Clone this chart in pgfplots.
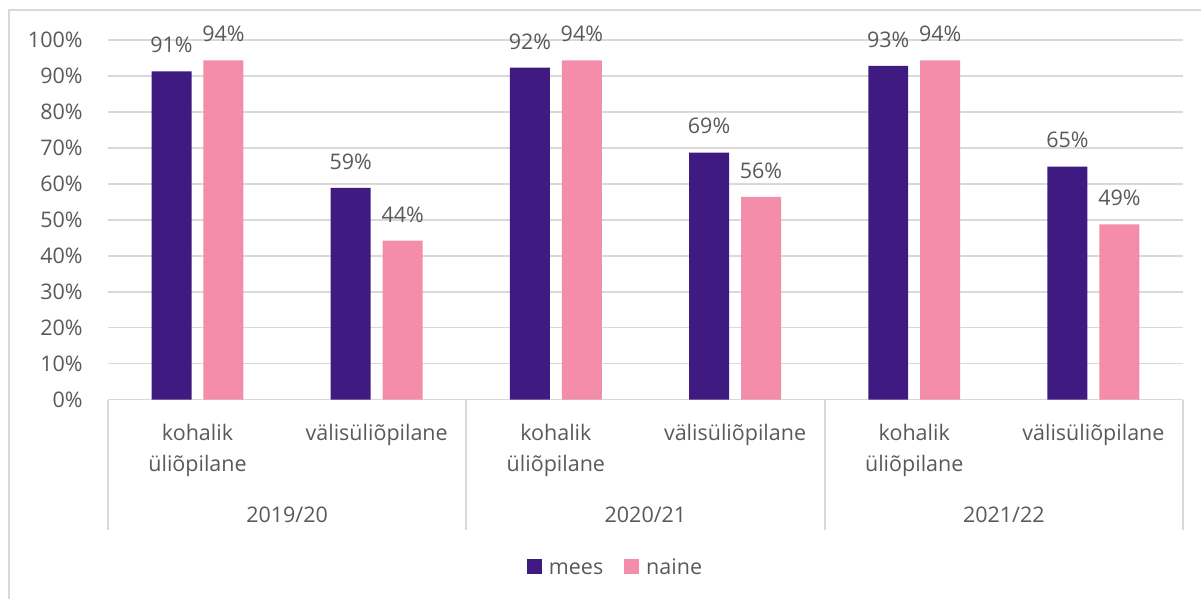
\documentclass[border=0pt]{standalone}
\usepackage{pgfplots}
\pgfplotsset{compat=1.18}
\usepackage{fontspec}
\setmainfont{Open Sans}
\definecolor{mees}{HTML}{3F1A80}
\definecolor{naine}{HTML}{F48DAA}
\definecolor{txt}{HTML}{595959}
\definecolor{grd}{HTML}{D9D9D9}
\newcommand{\cf}{\fontsize{10.75}{15.5}\selectfont}
\pgfplotsset{sqlegend/.style={legend image code/.code={\fill[##1,draw=none] (0pt,-3.5pt) rectangle (7.5pt,4pt);}}}
\begin{document}
\begin{tikzpicture}
\begin{axis}[
  scale only axis, width=538pt, height=180pt,
  xmin=0, xmax=6, ymin=0, ymax=100,
  clip=false,
  ybar=6pt, bar width=20pt,
  axis x line*=bottom, axis y line*=left,
  y axis line style={draw=none},
  x axis line style={draw=grd, line width=0.75pt},
  major tick length=0pt,
  ytick={0,10,...,100},
  ymajorgrids, grid style={draw=grd, line width=0.75pt},
  yticklabel={\pgfmathprintnumber[assume math mode=true]{\tick}\%},
  yticklabel style={font=\cf, color=txt, anchor=east, inner sep=0pt, xshift=-12.5pt},
  xtick={0.5,1.5,2.5,3.5,4.5,5.5},
  xticklabels={kohalik\\üliõpilane, välisüliõpilane, kohalik\\üliõpilane, välisüliõpilane, kohalik\\üliõpilane, välisüliõpilane},
  xticklabel style={font=\cf, color=txt, align=center, anchor=north, inner sep=0pt, yshift=-12.2pt},
  nodes near coords={\pgfmathprintnumber[fixed,precision=0,assume math mode=true]{\pgfplotspointmeta}\%},
  every node near coord/.append style={font=\cf, color=txt, anchor=south, inner sep=0pt, yshift=9pt},
  point meta=y,
  legend style={draw=none, fill=none, at={(0.4712,-0.4639)}, anchor=center, legend columns=2, font=\cf, text=txt,
    nodes={inner sep=0pt, text height=8pt, text depth=0pt},
    /tikz/every odd column/.append style={column sep=3.5pt},
    /tikz/every even column/.append style={column sep=10.5pt}},
]
\addplot[fill=mees, draw=none, sqlegend]
  coordinates {(0.5,91.3) (1.5,58.9) (2.5,92.3) (3.5,68.7) (4.5,92.8) (5.5,64.8)};
\addplot[fill=naine, draw=none, sqlegend]
  coordinates {(0.5,94.3) (1.5,44.2) (2.5,94.3) (3.5,56.4) (4.5,94.3) (5.5,48.7)};
\legend{mees, naine}
\foreach \s in {0,2,4,6} {
  \edef\tmp{\noexpand\draw[grd, line width=1pt] (axis cs:\s,0) -- ++(0pt,-65pt);}
  \tmp
}
\node[font=\cf, color=txt, anchor=base, inner sep=0pt] at ([yshift=-61.35pt]axis cs:1,0) {2019/20};
\node[font=\cf, color=txt, anchor=base, inner sep=0pt] at ([yshift=-61.35pt]axis cs:3,0) {2020/21};
\node[font=\cf, color=txt, anchor=base, inner sep=0pt] at ([yshift=-61.35pt]axis cs:5,0) {2021/22};
\coordinate (o) at (rel axis cs:0,0);
\end{axis}
\draw[grd, line width=1pt] ([shift={(-49.5pt,-99.5pt)}]o) -- ([shift={(-49.5pt,195pt)}]o) -- ([shift={(547pt,195pt)}]o);
\path[use as bounding box] ([shift={(-54pt,-99.5pt)}]o) rectangle ([shift={(547pt,200pt)}]o);
\end{tikzpicture}
\end{document}
